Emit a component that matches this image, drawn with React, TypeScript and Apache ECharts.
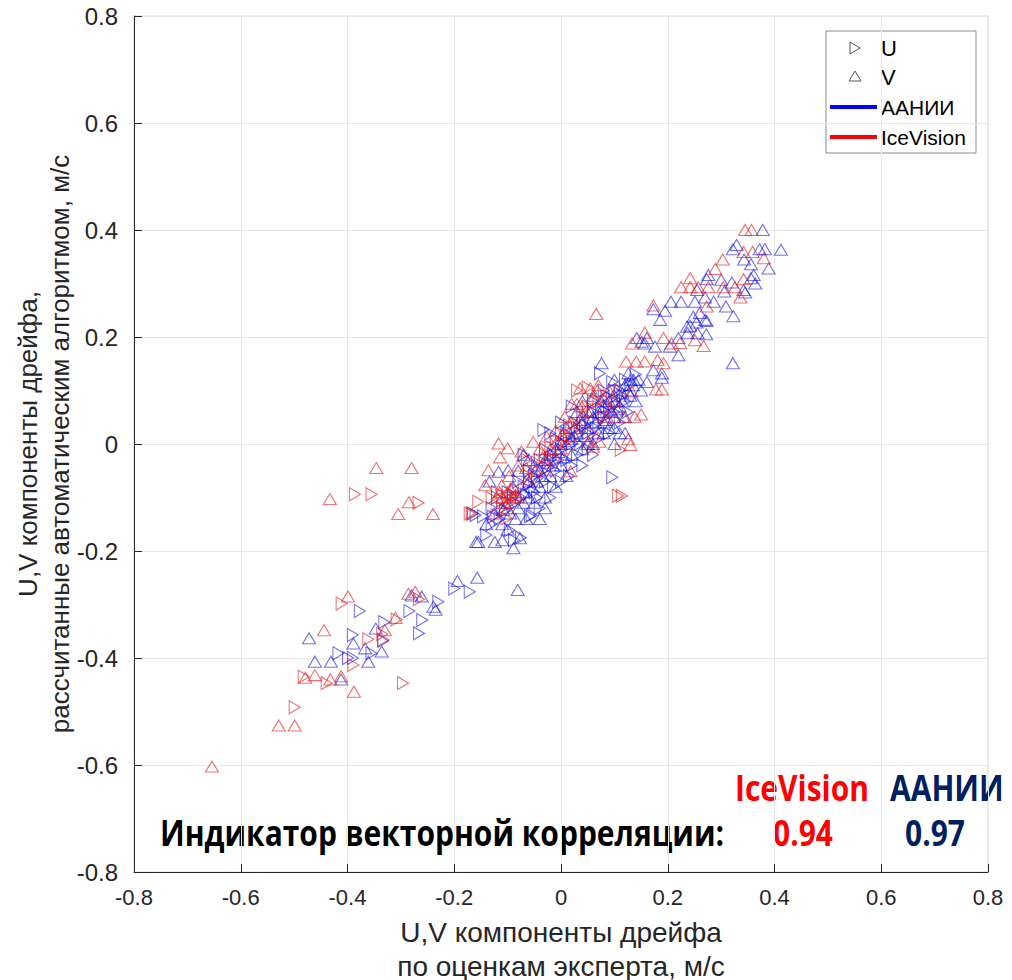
import React, { useEffect, useRef } from "react";
import * as echarts from "echarts";

// ---- DATA ----
const axisMin = -0.8;
const axisMax = 0.8;
const axisStep = 0.2;

const iceVisionCorr = "0.94";
const aaniiCorr = "0.97";

// AANII, U component (right-pointing triangles)
const aaniiU: [number, number][] = [
  [0.12, 0.08], [0.1, 0.06], [0.08, 0.05], [0.11, 0.1], [0.09, 0.07], [0.07, 0.04], [0.06, 0.06],
  [0.05, 0.02], [0.04, 0.05], [0.03, 0.03], [0.02, 0.0], [0.01, 0.02], [0.0, -0.01], [-0.01, 0.01],
  [-0.02, -0.03], [-0.03, -0.01], [-0.04, -0.03], [-0.05, -0.06], [-0.06, -0.05], [-0.07, -0.08],
  [-0.08, -0.07], [-0.09, -0.1], [-0.1, -0.09], [-0.11, -0.12], [-0.05, -0.09], [-0.03, -0.07],
  [-0.01, -0.05], [0.01, -0.03], [0.03, -0.02], [0.05, -0.01], [0.07, 0.01], [0.09, 0.02],
  [0.13, 0.11], [0.14, 0.13], [-0.12, -0.1], [-0.058, -0.135], [-0.096, -0.161], [-0.055, -0.133],
  [-0.075, -0.175], [-0.088, -0.18], [-0.127, -0.136], [-0.146, -0.135], [-0.16, -0.133],
  [-0.165, -0.13], [0.02, 0.07], [0.0, 0.04], [-0.02, 0.02], [0.04, -0.04], [0.06, -0.02],
  [-0.07, -0.02], [-0.033, 0.026], [0.096, -0.062], [0.073, 0.132], [0.096, 0.116], [0.11, 0.04],
  [0.125, 0.06], [0.085, 0.09], [0.015, -0.06], [-0.015, -0.08], [-0.045, -0.1], [0.035, 0.0],
  [-0.13, -0.12], [-0.115, -0.14], [-0.105, -0.125], [-0.085, -0.11], [-0.075, -0.1],
  [-0.065, -0.095], [-0.06, -0.075], [-0.045, -0.065], [-0.035, -0.05], [-0.025, -0.045],
  [-0.015, -0.02], [-0.005, -0.03], [0.005, 0.0], [0.015, 0.015], [0.025, 0.04], [0.035, 0.02],
  [0.045, 0.035], [0.055, 0.045], [0.065, 0.03], [0.075, 0.065], [0.085, 0.06], [0.095, 0.085],
  [0.105, 0.075], [0.115, 0.09], [0.12, 0.12], [0.1, 0.1], [0.08, 0.1], [0.06, 0.08],
  [-0.02, -0.1], [0.0, -0.07], [0.02, -0.04], [-0.04, -0.12], [-0.13, -0.15], [-0.14, -0.17],
  [-0.171, -0.276], [-0.377, -0.312], [-0.417, -0.391], [-0.399, -0.4], [-0.39, -0.4],
  [-0.355, -0.391], [-0.39, -0.357], [-0.333, -0.368], [-0.331, -0.333], [-0.284, -0.312],
  [-0.26, -0.329], [-0.266, -0.354], [-0.23, -0.295], [-0.2, -0.27],
];

// AANII, V component (upward triangles)
const aaniiV: [number, number][] = [
  [0.378, 0.4], [0.329, 0.372], [0.322, 0.364], [0.372, 0.364], [0.382, 0.364], [0.412, 0.363],
  [0.343, 0.345], [0.356, 0.336], [0.389, 0.328], [0.276, 0.316], [0.361, 0.316], [0.356, 0.31],
  [0.273, 0.308], [0.3, 0.307], [0.32, 0.302], [0.255, 0.288], [0.306, 0.285], [0.342, 0.288],
  [0.364, 0.3], [0.345, 0.283], [0.206, 0.266], [0.225, 0.266], [0.251, 0.266], [0.27, 0.274],
  [0.286, 0.266], [0.173, 0.252], [0.195, 0.249], [0.309, 0.257], [0.186, 0.232], [0.248, 0.238],
  [0.26, 0.245], [0.323, 0.239], [0.242, 0.221], [0.254, 0.227], [0.273, 0.23], [0.237, 0.207],
  [0.256, 0.207], [0.272, 0.205], [0.22, 0.198], [0.142, 0.198], [0.161, 0.198], [0.157, 0.188],
  [0.176, 0.182], [0.204, 0.182], [0.22, 0.166], [0.322, 0.151], [0.173, 0.138], [0.189, 0.132],
  [0.161, 0.116], [0.189, 0.124], [0.126, 0.132], [0.136, 0.12], [0.151, 0.191], [0.236, 0.219],
  [0.27, 0.232],
  [0.12, 0.11], [0.1, 0.09], [0.11, 0.07], [0.13, 0.09], [0.14, 0.08], [0.09, 0.08], [0.08, 0.07],
  [0.1, 0.05], [0.12, 0.05], [0.07, 0.06], [0.06, 0.05], [0.08, 0.04], [0.05, 0.03], [0.07, 0.02],
  [0.04, 0.04], [0.03, 0.02], [0.05, 0.0], [0.02, 0.01], [0.01, 0.03], [0.0, 0.0], [-0.01, -0.01],
  [0.02, -0.02], [-0.02, -0.02], [-0.03, -0.03], [0.0, -0.04], [-0.04, -0.05], [-0.05, -0.04],
  [-0.02, -0.06], [-0.06, -0.07], [-0.04, -0.08], [-0.07, -0.09], [-0.03, -0.1], [-0.08, -0.05],
  [-0.09, -0.08], [-0.1, -0.11], [-0.05, -0.11], [-0.04, -0.14], [-0.08, -0.12], [-0.11, -0.18],
  [-0.077, -0.176], [-0.124, -0.183], [-0.155, -0.183], [-0.089, -0.195], [-0.117, -0.052],
  [-0.099, -0.049], [-0.134, -0.07], [-0.108, -0.123], [-0.159, -0.183], [-0.081, -0.273],
  [0.09, 0.03], [0.11, 0.02], [0.03, 0.06], [0.06, 0.09], [0.04, 0.08], [0.13, 0.12], [0.15, 0.1],
  [-0.07, -0.02], [-0.06, -0.03], [0.076, 0.151], [0.1, 0.12], [0.115, 0.095],
  [-0.125, -0.13], [-0.11, -0.15], [-0.095, -0.13], [-0.085, -0.14], [-0.07, -0.11], [-0.06, -0.1],
  [-0.055, -0.08], [-0.045, -0.07], [-0.035, -0.06], [-0.025, -0.035], [-0.015, -0.04],
  [-0.005, -0.015], [0.005, -0.025], [0.015, 0.005], [0.025, 0.015], [0.035, 0.045], [0.045, 0.015],
  [0.055, 0.06], [0.065, 0.04], [0.075, 0.08], [0.085, 0.045], [0.095, 0.06], [0.105, 0.065],
  [0.115, 0.08], [0.125, 0.1], [0.135, 0.11], [0.145, 0.12], [0.1, 0.03], [0.08, 0.02], [0.06, 0.0],
  [0.04, -0.01], [0.01, -0.06], [-0.01, -0.08], [-0.03, -0.12], [-0.065, -0.14], [-0.1, -0.16],
  [-0.14, -0.15], [0.1, 0.0], [0.12, 0.02],
  [-0.194, -0.256], [-0.157, -0.25], [-0.472, -0.363], [-0.461, -0.407], [-0.431, -0.407],
  [-0.361, -0.407], [-0.367, -0.382], [-0.336, -0.388], [-0.389, -0.373], [-0.347, -0.345],
  [-0.28, -0.283], [-0.261, -0.285], [-0.239, -0.304], [-0.235, -0.31], [-0.412, -0.44],
];

// IceVision, U component
const iceU: [number, number][] = [
  [-0.386, -0.094], [-0.355, -0.094], [-0.267, -0.11], [-0.167, -0.13], [-0.411, -0.298],
  [-0.389, -0.413], [-0.361, -0.365], [-0.333, -0.366], [-0.335, -0.355], [-0.308, -0.328],
  [-0.266, -0.29], [-0.296, -0.447], [-0.482, -0.435], [-0.439, -0.447], [-0.499, -0.492],
  [0.107, -0.097], [0.114, -0.097], [0.112, -0.011], [-0.155, -0.108], [-0.13, -0.101],
  [-0.171, -0.13], [-0.121, -0.133], [-0.102, -0.139], [-0.1, -0.1], [-0.09, -0.095],
  [-0.11, -0.105], [-0.095, -0.11], [-0.064, -0.03], [-0.045, -0.035], [0.0, 0.02], [0.02, 0.01],
  [-0.03, -0.02], [0.04, 0.03], [0.05, 0.07], [0.03, 0.1], [0.07, 0.08], [-0.01, -0.03],
  [0.06, 0.02], [0.05, 0.105], [-0.12, -0.09], [-0.085, -0.085], [-0.06, -0.06], [-0.02, -0.005],
  [0.015, 0.035], [0.08, 0.05],
];

// IceVision, V component
const iceV: [number, number][] = [
  [0.345, 0.4], [0.357, 0.4], [0.342, 0.359], [0.359, 0.359], [0.303, 0.345], [0.38, 0.347],
  [0.289, 0.327], [0.242, 0.31], [0.342, 0.308], [0.225, 0.293], [0.242, 0.293], [0.257, 0.293],
  [0.276, 0.293], [0.304, 0.293], [0.326, 0.293], [0.336, 0.274], [0.173, 0.259], [0.273, 0.257],
  [0.251, 0.194], [0.267, 0.183], [0.157, 0.208], [0.133, 0.188], [0.192, 0.198], [0.207, 0.188],
  [0.223, 0.189], [0.122, 0.154], [0.141, 0.154], [0.157, 0.154], [0.181, 0.157], [0.192, 0.151],
  [0.178, 0.102], [0.189, 0.102], [0.066, 0.243], [0.15, 0.055], [0.13, -0.002],
  [-0.117, 0.001], [-0.1, -0.008], [-0.114, -0.025], [-0.136, -0.049], [-0.142, -0.077],
  [-0.074, -0.014], [-0.052, 0.004], [-0.04, -0.01], [-0.027, 0.014], [-0.02, -0.01],
  [-0.008, 0.004], [0.0, -0.009], [0.002, 0.017], [0.007, 0.051], [0.019, 0.04], [0.036, 0.104],
  [0.055, 0.104], [0.068, 0.1], [0.039, 0.07], [0.048, 0.062], [0.03, 0.075], [0.051, 0.004],
  [0.06, -0.005], [0.072, 0.004], [0.086, 0.051], [0.092, 0.063], [0.104, 0.101], [0.132, 0.098],
  [0.138, 0.051], [0.117, 0.051], [0.126, 0.009], [0.018, -0.051], [-0.027, -0.048],
  [-0.048, -0.05], [-0.063, -0.066], [-0.111, -0.077], [-0.097, -0.06],
  [-0.1, -0.09], [-0.09, -0.1], [-0.11, -0.1], [-0.095, -0.085], [-0.105, -0.11], [-0.085, -0.095],
  [-0.115, -0.09], [-0.08, -0.04], [-0.065, -0.045], [-0.035, -0.025], [-0.01, 0.025], [0.01, 0.0],
  [0.025, 0.03], [0.04, 0.055], [0.06, 0.085], [0.08, 0.085], [0.1, 0.08], [-0.12, -0.1],
  [-0.1, -0.12], [-0.08, -0.1], [0.09, 0.1], [0.07, 0.11], [0.02, 0.075],
  [-0.346, -0.045], [-0.28, -0.045], [-0.433, -0.103], [-0.285, -0.109], [-0.305, -0.131],
  [-0.24, -0.131], [-0.399, -0.285], [-0.444, -0.348], [-0.33, -0.348], [-0.31, -0.325],
  [-0.286, -0.28], [-0.273, -0.276], [-0.388, -0.463], [-0.479, -0.437], [-0.461, -0.432],
  [-0.432, -0.44], [-0.412, -0.434], [-0.529, -0.526], [-0.499, -0.526], [-0.654, -0.603],
];

const RED = "rgba(228,20,20,0.75)";
const BLUE = "rgba(10,10,225,0.72)";
const U_SYMBOL = "path://M0,0L10,5L0,10Z";
const V_SYMBOL = "path://M5,0L10,10L0,10Z";

const tickFont = "'Liberation Sans', Arial, sans-serif";
const boldFont = "bold 30px 'Open Sans'";

function scatter(name: string, data: [number, number][], symbol: string, size: number[], color: string) {
  return {
    name,
    type: "scatter",
    data,
    symbol,
    symbolSize: size,
    symbolKeepAspect: false,
    itemStyle: { color: "transparent", borderColor: color, borderWidth: 1.1 },
    emphasis: { disabled: true },
  };
}

function boldText(text: string, x: number, y: number, fill: string) {
  return {
    type: "text",
    x,
    y,
    scaleY: 1.2,
    originX: 0,
    originY: 0,
    style: { text, font: boldFont, fill, verticalAlign: "middle" },
  };
}

export default function App() {
  const ref = useRef<HTMLDivElement>(null);
  useEffect(() => {
    if (!ref.current) return;
    const chart = echarts.init(ref.current, undefined, { renderer: "svg" });
    const fmt = (v: number) => (Math.abs(v) < 1e-9 ? "0" : v.toFixed(1));
    chart.setOption({
      animation: false,
      backgroundColor: "#ffffff",
      grid: {
        left: 134,
        top: 16,
        width: 854,
        height: 856,
        show: true,
        borderColor: "#d9d9d9",
        borderWidth: 1,
        containLabel: false,
        outerBoundsMode: "none",
      },
      xAxis: {
        type: "value",
        min: axisMin,
        max: axisMax,
        interval: axisStep,
        axisLine: { show: true, onZero: false, lineStyle: { color: "#262626", width: 1 } },
        axisTick: { show: true, inside: true, length: 8, lineStyle: { color: "#262626" } },
        axisLabel: { formatter: fmt, color: "#262626", fontSize: 22, fontFamily: tickFont, margin: 14 },
        splitLine: { show: true, lineStyle: { color: "#e8e8e8", width: 1 } },
        name: "U,V компоненты дрейфа\nпо оценкам эксперта, м/с",
        nameLocation: "middle",
        nameGap: 43,
        nameMoveOverlap: false,
        nameTextStyle: { fontSize: 28, fontFamily: tickFont, color: "#262626", lineHeight: 34 },
      },
      yAxis: {
        type: "value",
        min: axisMin,
        max: axisMax,
        interval: axisStep,
        axisLine: { show: true, onZero: false, lineStyle: { color: "#262626", width: 1 } },
        axisTick: { show: true, inside: true, length: 8, lineStyle: { color: "#262626" } },
        axisLabel: { formatter: fmt, color: "#262626", fontSize: 24, fontFamily: tickFont, margin: 16 },
        splitLine: { show: true, lineStyle: { color: "#e8e8e8", width: 1 } },
        name: "U,V компоненты дрейфа,\nрассчитанные автоматическим алгоритмом, м/с",
        nameLocation: "middle",
        nameRotate: 90,
        nameGap: 58,
        nameMoveOverlap: false,
        nameTextStyle: { fontSize: 26, fontFamily: tickFont, color: "#262626", lineHeight: 32 },
      },
      series: [
        scatter("ААНИИ U", aaniiU, U_SYMBOL, [11, 13], BLUE),
        scatter("ААНИИ V", aaniiV, V_SYMBOL, [13, 11], BLUE),
        scatter("IceVision U", iceU, U_SYMBOL, [11, 13], RED),
        scatter("IceVision V", iceV, V_SYMBOL, [13, 11], RED),
      ],
      graphic: [
        {
          type: "group",
          children: [
            { type: "rect", shape: { x: 826, y: 31, width: 150, height: 122 }, style: { fill: "#ffffff", stroke: "#8c8c8c", lineWidth: 1 } },
            { type: "polygon", shape: { points: [[850, 42], [860, 48], [850, 54]] }, style: { fill: "none", stroke: "#555", lineWidth: 1 } },
            { type: "text", x: 881, y: 48, style: { text: "U", font: `22px ${tickFont}`, fill: "#000", verticalAlign: "middle" } },
            { type: "polygon", shape: { points: [[849, 81], [855, 71], [861, 81]] }, style: { fill: "none", stroke: "#555", lineWidth: 1 } },
            { type: "text", x: 881, y: 77, style: { text: "V", font: `22px ${tickFont}`, fill: "#000", verticalAlign: "middle" } },
            { type: "line", shape: { x1: 830, y1: 107, x2: 877, y2: 107 }, style: { stroke: "#0000ff", lineWidth: 4 } },
            { type: "text", x: 881, y: 107, style: { text: "ААНИИ", font: `21px ${tickFont}`, fill: "#000", verticalAlign: "middle" } },
            { type: "line", shape: { x1: 830, y1: 137, x2: 877, y2: 137 }, style: { stroke: "#ff0000", lineWidth: 4 } },
            { type: "text", x: 881, y: 137, style: { text: "IceVision", font: `21px ${tickFont}`, fill: "#000", verticalAlign: "middle" } },
          ],
        },
        boldText("IceVision", 735, 787, "#ff0000"),
        boldText("ААНИИ", 890, 787, "#002060"),
        boldText("Индикатор векторной корреляции:", 160, 832, "#000000"),
        boldText(iceVisionCorr, 773, 832, "#ff0000"),
        boldText(aaniiCorr, 905, 832, "#002060"),
      ],
    });
    return () => chart.dispose();
  }, []);
  return <div ref={ref} style={{ position: "fixed", left: 0, top: 0, width: 1012, height: 980 }} />;
}
